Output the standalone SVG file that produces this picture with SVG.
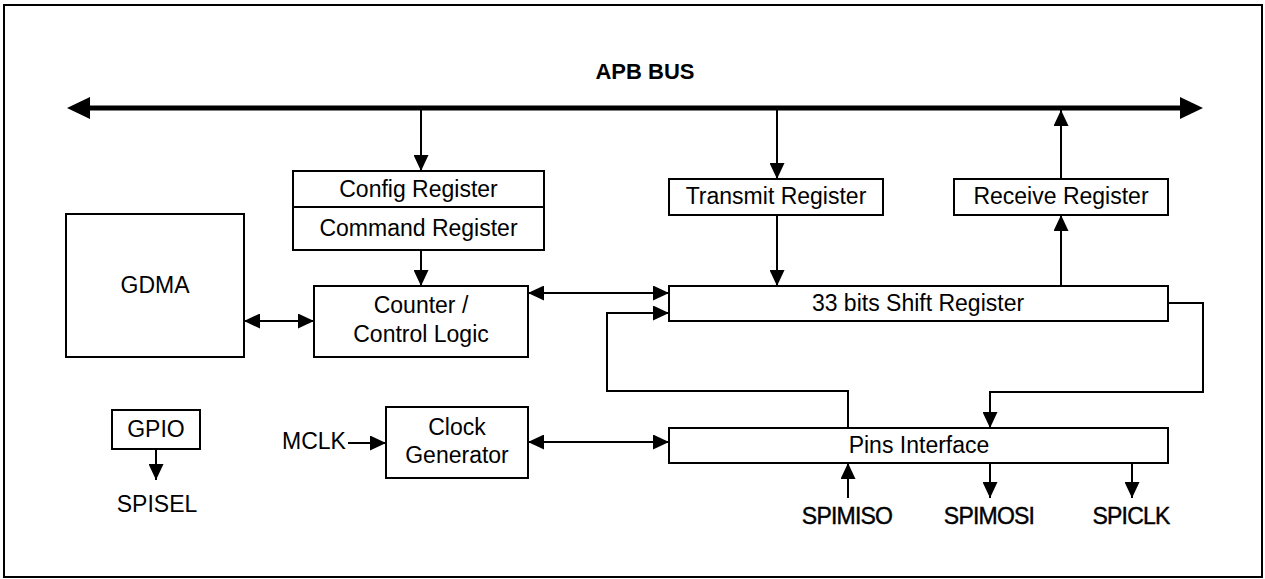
<svg xmlns="http://www.w3.org/2000/svg" width="1265" height="579" viewBox="0 0 1265 579">
<style>
  .box { fill: #fff; stroke: #000; stroke-width: 2; }
  .t { font-family: "Liberation Sans", Arial, sans-serif; font-size: 23px; fill: #000; text-anchor: middle; }
  .pin { font-family: "Liberation Sans", Arial, sans-serif; font-size: 23px; fill: #000; text-anchor: middle; stroke: #000; stroke-width: 0.4; letter-spacing: -0.8px; }
  .b { font-weight: bold; font-size: 22px; }
  .w { fill: none; stroke: #000; stroke-width: 2; }
  .bus { fill: none; stroke: #000; stroke-width: 5; }
</style>
<defs>
  <marker id="ah" markerUnits="userSpaceOnUse" markerWidth="16" markerHeight="15" refX="16" refY="7.5" orient="auto-start-reverse">
    <path d="M0,0 L16,7.5 L0,15 Z" fill="#000"/>
  </marker>
  <marker id="bh" markerUnits="userSpaceOnUse" markerWidth="23" markerHeight="22" refX="2" refY="11" orient="auto-start-reverse">
    <path d="M0,0 L23,11 L0,22 Z" fill="#000"/>
  </marker>
</defs>

<rect x="4" y="5" width="1258" height="572" fill="#fff" stroke="#000" stroke-width="2"/>

<g id="apb-bus">
  <text class="t b" x="645" y="79">APB BUS</text>
</g>

<g id="connectors">
  <path class="bus" d="M88,108 H1182" marker-start="url(#bh)" marker-end="url(#bh)"/>
  <path class="w" d="M421,110 V171" marker-end="url(#ah)"/>
  <path class="w" d="M777,110 V179" marker-end="url(#ah)"/>
  <path class="w" d="M1061,179 V110" marker-end="url(#ah)"/>
  <path class="w" d="M421,250 V286" marker-end="url(#ah)"/>
  <path class="w" d="M777,215 V286" marker-end="url(#ah)"/>
  <path class="w" d="M1061,286 V215" marker-end="url(#ah)"/>
  <path class="w" d="M528,293 H669" marker-start="url(#ah)" marker-end="url(#ah)"/>
  <path class="w" d="M244,321 H314" marker-start="url(#ah)" marker-end="url(#ah)"/>
  <path class="w" d="M848,428 V391 H607 V313 H669" marker-end="url(#ah)"/>
  <path class="w" d="M1168,303 H1203 V392 H990 V428" marker-end="url(#ah)"/>
  <path class="w" d="M528,442 H669" marker-start="url(#ah)" marker-end="url(#ah)"/>
  <path class="w" d="M348,443 H386" marker-end="url(#ah)"/>
  <path class="w" d="M156,449 V480" marker-end="url(#ah)"/>
  <path class="w" d="M848,498 V463" marker-end="url(#ah)"/>
  <path class="w" d="M990,463 V498" marker-end="url(#ah)"/>
  <path class="w" d="M1132,463 V498" marker-end="url(#ah)"/>
</g>

<g id="config-register">
  <rect class="box" x="293" y="171" width="251" height="36"/>
  <text class="t" x="418.5" y="197">Config Register</text>
</g>
<g id="command-register">
  <rect class="box" x="293" y="207" width="251" height="43"/>
  <text class="t" x="418.5" y="236">Command Register</text>
</g>
<g id="transmit-register">
  <rect class="box" x="669" y="179" width="214" height="36"/>
  <text class="t" x="776" y="204">Transmit Register</text>
</g>
<g id="receive-register">
  <rect class="box" x="954" y="179" width="214" height="36"/>
  <text class="t" x="1061" y="204">Receive Register</text>
</g>
<g id="gdma">
  <rect class="box" x="66" y="214" width="178" height="143"/>
  <text class="t" x="155" y="293">GDMA</text>
</g>
<g id="counter-control">
  <rect class="box" x="314" y="286" width="214" height="71"/>
  <text class="t" x="421" y="313">Counter /</text>
  <text class="t" x="421" y="342">Control Logic</text>
</g>
<g id="shift-register">
  <rect class="box" x="669" y="286" width="499" height="35"/>
  <text class="t" x="918" y="311">33 bits Shift Register</text>
</g>
<g id="gpio">
  <rect class="box" x="112" y="410" width="88" height="39"/>
  <text class="t" x="156" y="437">GPIO</text>
</g>
<g id="spisel">
  <text class="t" x="157" y="512">SPISEL</text>
</g>
<g id="mclk">
  <text class="t" x="314" y="449">MCLK</text>
</g>
<g id="clock-generator">
  <rect class="box" x="386" y="407" width="142" height="71"/>
  <text class="t" x="457" y="435">Clock</text>
  <text class="t" x="457" y="463">Generator</text>
</g>
<g id="pins-interface">
  <rect class="box" x="669" y="428" width="499" height="35"/>
  <text class="t" x="919" y="453">Pins Interface</text>
</g>
<g id="spimiso">
  <text class="pin" x="847" y="524">SPIMISO</text>
</g>
<g id="spimosi">
  <text class="pin" x="989" y="524">SPIMOSI</text>
</g>
<g id="spiclk">
  <text class="pin" x="1131" y="524">SPICLK</text>
</g>
</svg>
